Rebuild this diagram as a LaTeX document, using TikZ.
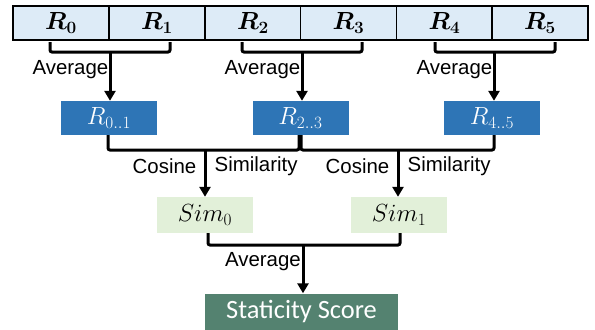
\documentclass[tikz,border=0pt]{standalone}
\usepackage{fontspec}
\usepackage{bm}
\DeclareMathSizes{25}{25}{19}{15}
\DeclareMathSizes{24}{24}{18}{14}
\newfontfamily\arialf{Liberation Sans}
\newfontfamily\calibrif{Carlito}
\usetikzlibrary{arrows.meta}
\definecolor{cellblue}{RGB}{221,235,247}
\definecolor{boxblue}{RGB}{46,117,182}
\definecolor{simgreen}{RGB}{226,240,217}
\definecolor{scoregreen}{RGB}{84,130,112}
\tikzset{
  cell/.style={draw=black, line width=1.3bp, fill=cellblue, minimum width=96bp, minimum height=34bp, inner sep=0pt, font=\fontsize{25}{27}\selectfont},
  avgbox/.style={fill=boxblue, text=white, minimum width=96bp, minimum height=34bp, inner sep=0pt, font=\fontsize{25}{27}\selectfont},
  simbox/.style={fill=simgreen, minimum width=96bp, minimum height=36bp, inner sep=0pt, font=\fontsize{24}{26}\selectfont},
  scorebox/.style={fill=scoregreen, text=white, minimum width=193bp, minimum height=36bp, inner sep=0pt, font=\calibrif\fontsize{26.5}{29}\selectfont},
  lbl/.style={inner sep=0pt, font=\arialf\fontsize{20.5}{23}\selectfont},
  brk/.style={line width=3bp, rounded corners=2bp},
  arr/.style={line width=3bp, -{Triangle[width=11bp,length=10bp]}}
}
\begin{document}
\begin{tikzpicture}[x=1bp,y=-1bp]
\useasboundingbox (0,0) rectangle (595,329);
% top cells
\node[cell] (c0) at (61,23) {$\bm{R_0}$};
\node[cell] (c1) at (157,23) {$\bm{R_1}$};
\node[cell] (c2) at (253,23) {$\bm{R_2}$};
\node[cell] (c3) at (348.5,23) {$\bm{R_3}$};
\node[cell] (c4) at (444.5,23) {$\bm{R_4}$};
\node[cell] (c5) at (540,23) {$\bm{R_5}$};
% averaged boxes
\node[avgbox] (b0) at (109,118) {$R_{0..1}$};
\node[avgbox] (b1) at (300.5,118) {$R_{2..3}$};
\node[avgbox] (b2) at (492,118) {$R_{4..5}$};
% similarity boxes
\node[simbox] (s0) at (205,215) {$Sim_0$};
\node[simbox] (s1) at (399,215) {$Sim_1$};
% score
\node[scorebox] (sc) at (301.5,311.5) {Staticity Score};
% top brackets
\coordinate (t0a) at (50,42); \coordinate (t0b) at (170,42); \coordinate (t0m) at (110,52);
\coordinate (t1a) at (242,42); \coordinate (t1b) at (362,42); \coordinate (t1m) at (302,52);
\coordinate (t2a) at (435,42); \coordinate (t2b) at (555,42); \coordinate (t2m) at (494,52);
\draw[brk] (t0a) |- (t0m) -| (t0b);
\draw[brk] (t1a) |- (t1m) -| (t1b);
\draw[brk] (t2a) |- (t2m) -| (t2b);
\draw[arr] (t0m) -- (t0m |- b0.north);
\draw[arr] (t1m) -- (t1m |- b1.north);
\draw[arr] (t2m) -- (t2m |- b2.north);
\node[lbl, anchor=east] (l0) at (108.5,70) {Average};
\node[lbl, anchor=east] (l1) at (300.5,70) {Average};
\node[lbl, anchor=east] (l2) at (492.5,70) {Average};
% middle brackets
\coordinate (m0a) at (108,135); \coordinate (m0b) at (299,135); \coordinate (m0m) at (205,150);
\coordinate (m1a) at (301,135); \coordinate (m1b) at (494,135); \coordinate (m1m) at (398,150);
\draw[brk] (m0a) |- (m0m) -| (m0b);
\draw[brk] (m1a) |- (m1m) -| (m1b);
\draw[arr] (m0m) -- (m0m |- s0.north);
\draw[arr] (m1m) -- (m1m |- s1.north);
\node[lbl, anchor=east] (cs0) at (196.5,166) {Cosine};
\node[lbl, anchor=west] (sm0) at (214.5,166) {Similarity};
\node[lbl, anchor=east] (cs1) at (389.5,166) {Cosine};
\node[lbl, anchor=west] (sm1) at (407.5,166) {Similarity};
% bottom bracket
\coordinate (ba) at (208,233); \coordinate (bb) at (400,233); \coordinate (bm) at (303,245);
\draw[brk] (ba) |- (bm) -| (bb);
\draw[arr] (bm) -- (bm |- sc.north);
\node[lbl, anchor=east] (la) at (301,262) {Average};
\end{tikzpicture}
\end{document}
